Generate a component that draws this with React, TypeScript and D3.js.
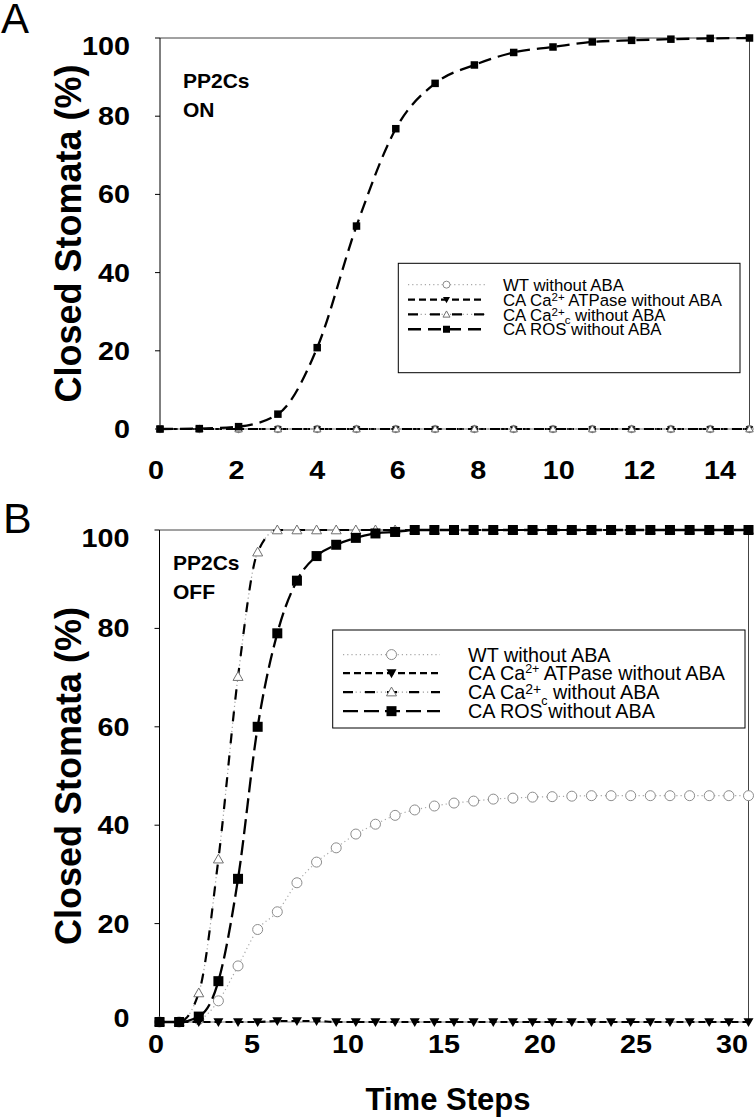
import React, { useLayoutEffect } from 'react';
import * as d3 from 'd3';

// ---------- DATA ----------
const timeA = [0, 1, 2, 3, 4, 5, 6, 7, 8, 9, 10, 11, 12, 13, 14, 15];
const wtA = [0, 0, 0, 0, 0, 0, 0, 0, 0, 0, 0, 0, 0, 0, 0, 0];
const atpaseA = [0, 0, 0, 0, 0, 0, 0, 0, 0, 0, 0, 0, 0, 0, 0, 0];
const cacA = [0, 0, 0, 0, 0, 0, 0, 0, 0, 0, 0, 0, 0, 0, 0, 0];
const rosA = [0, 0.1, 0.6, 3.8, 20.8, 51.9, 76.8, 88.4, 93.1, 96.3, 97.7, 99.0, 99.4, 99.7, 99.9, 100];

const timeB = [0, 1, 2, 3, 4, 5, 6, 7, 8, 9, 10, 11, 12, 13, 14, 15, 16, 17, 18, 19, 20, 21, 22, 23, 24, 25, 26, 27, 28, 29, 30];
const wtB = [0, 0, 0.5, 4.3, 11.4, 18.8, 22.4, 28.3, 32.5, 35.4, 38.2, 40.2, 42.0, 43.1, 43.9, 44.5, 44.9, 45.3, 45.5, 45.7, 45.8, 45.9, 46.0, 46.0, 46.0, 46.0, 46.0, 46.0, 46.0, 46.0, 46.0];
const atpaseB = [0, 0, 0, 0, 0, 0, 0.2, 0.2, 0.2, 0, 0, 0, 0, 0, 0, 0, 0, 0, 0, 0, 0, 0, 0, 0, 0, 0, 0, 0, 0, 0, 0];
const cacB = [0, 0, 5.9, 33.1, 70.2, 95.5, 100, 100, 100, 100, 100, 100, 100, 100, 100, 100, 100, 100, 100, 100, 100, 100, 100, 100, 100, 100, 100, 100, 100, 100, 100];
const rosB = [0, 0, 1.1, 8.3, 29.1, 60.0, 79.0, 89.7, 94.7, 97.0, 98.4, 99.3, 99.6, 100, 100, 100, 100, 100, 100, 100, 100, 100, 100, 100, 100, 100, 100, 100, 100, 100, 100];

const yTicks = [0, 20, 40, 60, 80, 100];
const xTicksA = [0, 2, 4, 6, 8, 10, 12, 14];
const xTicksB = [0, 5, 10, 15, 20, 25, 30];

const seriesKeys = ['wt', 'atpase', 'cac', 'ros'];

// ---------- DRAWING ----------
const FONT = '"Liberation Sans", Arial, Helvetica, sans-serif';

type Kind = 'circle' | 'tdown' | 'tup' | 'square';
const markerKind: Record<string, Kind> = { wt: 'circle', atpase: 'tdown', cac: 'tup', ros: 'square' };

function Marker({ kind, cx, cy, s }: { kind: Kind; cx: number; cy: number; s: number }) {
  if (kind === 'circle') return <circle cx={cx} cy={cy} r={s / 2} fill="white" stroke="#8c8c8c" strokeWidth={1} />;
  if (kind === 'square') return <rect x={cx - s / 2} y={cy - s / 2} width={s} height={s} fill="#000" />;
  if (kind === 'tdown')
    return <path d={`M${cx - s / 2},${cy - s * 0.38}L${cx + s / 2},${cy - s * 0.38}L${cx},${cy + s * 0.5}Z`} fill="#000" />;
  return (
    <path
      d={`M${cx - s / 2},${cy + s * 0.38}L${cx + s / 2},${cy + s * 0.38}L${cx},${cy - s * 0.5}Z`}
      fill="white"
      stroke="#707070"
      strokeWidth={1}
    />
  );
}

function SeriesLine({ k, d, rosDash }: { k: string; d: string; rosDash: string }) {
  if (k === 'wt') return <path d={d} fill="none" stroke="#a8a8a8" strokeWidth={1.2} strokeDasharray="1.2,3" />;
  if (k === 'atpase') return <path d={d} fill="none" stroke="#000" strokeWidth={2.2} strokeDasharray="7,4" />;
  if (k === 'cac')
    return (
      <g>
        <path d={d} fill="none" stroke="#a0a0a0" strokeWidth={1.2} strokeDasharray="1.2,3" />
        <path d={d} fill="none" stroke="#000" strokeWidth={2.2} strokeDasharray="10,12" />
      </g>
    );
  return <path d={d} fill="none" stroke="#000" strokeWidth={2.3} strokeDasharray={rosDash} />;
}

function LegendLabel({ i, x, y, fs, sup }: { i: number; x: number; y: number; fs: number; sup: any }) {
  const common = { x, y, fontFamily: FONT, fontSize: fs, fill: '#000' };
  if (i === 0) return <text {...common}>WT without ABA</text>;
  if (i === 1)
    return (
      <text {...common}>
        CA Ca<tspan dy={-sup.up1} fontSize={sup.fs1}>2+</tspan>
        <tspan dy={sup.up1}> ATPase without ABA</tspan>
      </text>
    );
  if (i === 2)
    return (
      <text {...common}>
        CA Ca<tspan dy={-sup.up2} fontSize={sup.fs2}>2+</tspan>
        <tspan dy={sup.up2 + sup.down} fontSize={sup.fs1}>c</tspan>
        <tspan dy={-sup.down}> without ABA</tspan>
      </text>
    );
  return <text {...common}>CA ROS without ABA</text>;
}

function Legend({ box, symX1, symX2, textX, baselines, fs, ms, rosDash, sup }: any) {
  return (
    <g>
      <rect x={box[0]} y={box[1]} width={box[2] - box[0]} height={box[3] - box[1]} fill="white" stroke="#000" strokeWidth={1} />
      {seriesKeys.map((k, i) => {
        const cy = baselines[i] - fs * 0.36;
        const d = `M${symX1},${cy}L${symX2},${cy}`;
        return (
          <g key={k}>
            <SeriesLine k={k} d={d} rosDash={rosDash} />
            <Marker kind={markerKind[k]} cx={(symX1 + symX2) / 2} cy={cy} s={ms} />
            <LegendLabel i={i} x={textX} y={baselines[i]} fs={fs} sup={sup} />
          </g>
        );
      })}
    </g>
  );
}

function Panel({ time, data, xDomain, xRange, yRange, xTicks, labelRange, xLabelY, zeroLabelShift, ms, rosDash }: any) {
  const x = d3.scaleLinear().domain(xDomain).range(xRange);
  const y = d3.scaleLinear().domain([0, 100]).range(yRange);
  // tick labels of the original sit on a slightly different spacing than the marks
  const xl = d3.scaleLinear().domain([xTicks[0], xTicks[xTicks.length - 1]]).range(labelRange);
  const line = d3
    .line<number>()
    .x((_, i) => x(time[i]))
    .y((v) => y(v))
    .curve(d3.curveMonotoneX);
  const [x0, x1] = xRange;
  const [y0, y1] = yRange;
  const tickFs = 25;
  return (
    <g>
      <line x1={x0} x2={x1} y1={y1} y2={y1} stroke="#444" strokeWidth={1} />
      <line x1={x1} x2={x1} y1={y1} y2={y0} stroke="#444" strokeWidth={1} />
      <line x1={x0} x2={x1} y1={y0} y2={y0} stroke="#777" strokeWidth={1} />
      <line x1={x0} x2={x0} y1={y1} y2={y0} stroke="#000" strokeWidth={1} />
      {yTicks.map((t) => (
        <g key={t}>
          <line x1={x0 - 5} x2={x0} y1={y(t)} y2={y(t)} stroke="#000" strokeWidth={1} />
          <text
            transform={`translate(${x0 - 30},${y(t) + 9 + (t === 100 ? 8 : 0) + (t === 0 ? zeroLabelShift : 0)}) scale(1.15,1)`}
            textAnchor="end"
            fontFamily={FONT}
            fontWeight="bold"
            fontSize={tickFs}
          >
            {t}
          </text>
        </g>
      ))}
      {xTicks.map((t: number) => (
        <text
          key={t}
          transform={`translate(${xl(t)},${xLabelY}) scale(1.15,1)`}
          textAnchor="middle"
          fontFamily={FONT}
          fontWeight="bold"
          fontSize={tickFs}
        >
          {t}
        </text>
      ))}
      {seriesKeys.map((k) => (
        <g key={k}>
          <SeriesLine k={k} d={line(data[k]) || ''} rosDash={rosDash} />
          {data[k].map((v: number, i: number) => (
            <Marker key={i} kind={markerKind[k]} cx={x(time[i])} cy={y(v)} s={ms} />
          ))}
        </g>
      ))}
    </g>
  );
}

export default function App() {
  useLayoutEffect(() => {
    document.body.style.margin = '0';
  }, []);
  const W = 755;
  const H = 1118;
  return (
    <svg width={W} height={H} viewBox={`0 0 ${W} ${H}`} style={{ display: 'block', background: 'white' }}>
      <rect width={W} height={H} fill="white" />
      {/* Panel A */}
      <text x={1} y={33} fontFamily={FONT} fontSize={42}>A</text>
      <Panel
        time={timeA}
        data={{ wt: wtA, atpase: atpaseA, cac: cacA, ros: rosA }}
        xDomain={[0, 15]}
        xRange={[160, 749.5]}
        yRange={[429, 38]}
        xTicks={xTicksA}
        labelRange={[156, 720]}
        xLabelY={479}
        zeroLabelShift={0}
        ms={7.5}
        rosDash="13,7"
      />
      <text x={183} y={88.3} fontFamily={FONT} fontWeight="bold" fontSize={21}>PP2Cs</text>
      <text x={183} y={116.7} fontFamily={FONT} fontWeight="bold" fontSize={21}>ON</text>
      <Legend
        box={[398.3, 263.3, 740, 372.7]}
        symX1={408}
        symX2={485}
        textX={503}
        baselines={[290.7, 305.7, 320.5, 335.3]}
        fs={16.8}
        ms={7}
        rosDash="13,7"
        sup={{ up1: 4.5, fs1: 11.5, up2: 4.5, fs2: 11.5, down: 3.5 }}
      />
      <text
        transform={`translate(81,233.5) rotate(-90)`}
        textAnchor="middle"
        fontFamily={FONT}
        fontWeight="bold"
        fontSize={36}
      >
        Closed Stomata (%)
      </text>

      {/* Panel B */}
      <text x={3} y={533} fontFamily={FONT} fontSize={43}>B</text>
      <Panel
        time={timeB}
        data={{ wt: wtB, atpase: atpaseB, cac: cacB, ros: rosB }}
        xDomain={[0, 30]}
        xRange={[159.5, 748.5]}
        yRange={[1022, 530]}
        xTicks={xTicksB}
        labelRange={[156, 732]}
        xLabelY={1053}
        zeroLabelShift={-4}
        ms={10}
        rosDash="15,6"
      />
      <text x={173} y={570} fontFamily={FONT} fontWeight="bold" fontSize={21}>PP2Cs</text>
      <text x={173} y={599.3} fontFamily={FONT} fontWeight="bold" fontSize={21}>OFF</text>
      <Legend
        box={[332.7, 630, 745, 728]}
        symX1={343}
        symX2={440}
        textX={468}
        baselines={[661.7, 680.3, 699.2, 718.3]}
        fs={19.8}
        ms={10}
        rosDash="15,6"
        sup={{ up1: 7.5, fs1: 12.5, up2: 5, fs2: 14, down: 5.5 }}
      />
      <text
        transform={`translate(81,776) rotate(-90)`}
        textAnchor="middle"
        fontFamily={FONT}
        fontWeight="bold"
        fontSize={36}
      >
        Closed Stomata (%)
      </text>
      <text x={448} y={1110} textAnchor="middle" fontFamily={FONT} fontWeight="bold" fontSize={31}>
        Time Steps
      </text>
    </svg>
  );
}
